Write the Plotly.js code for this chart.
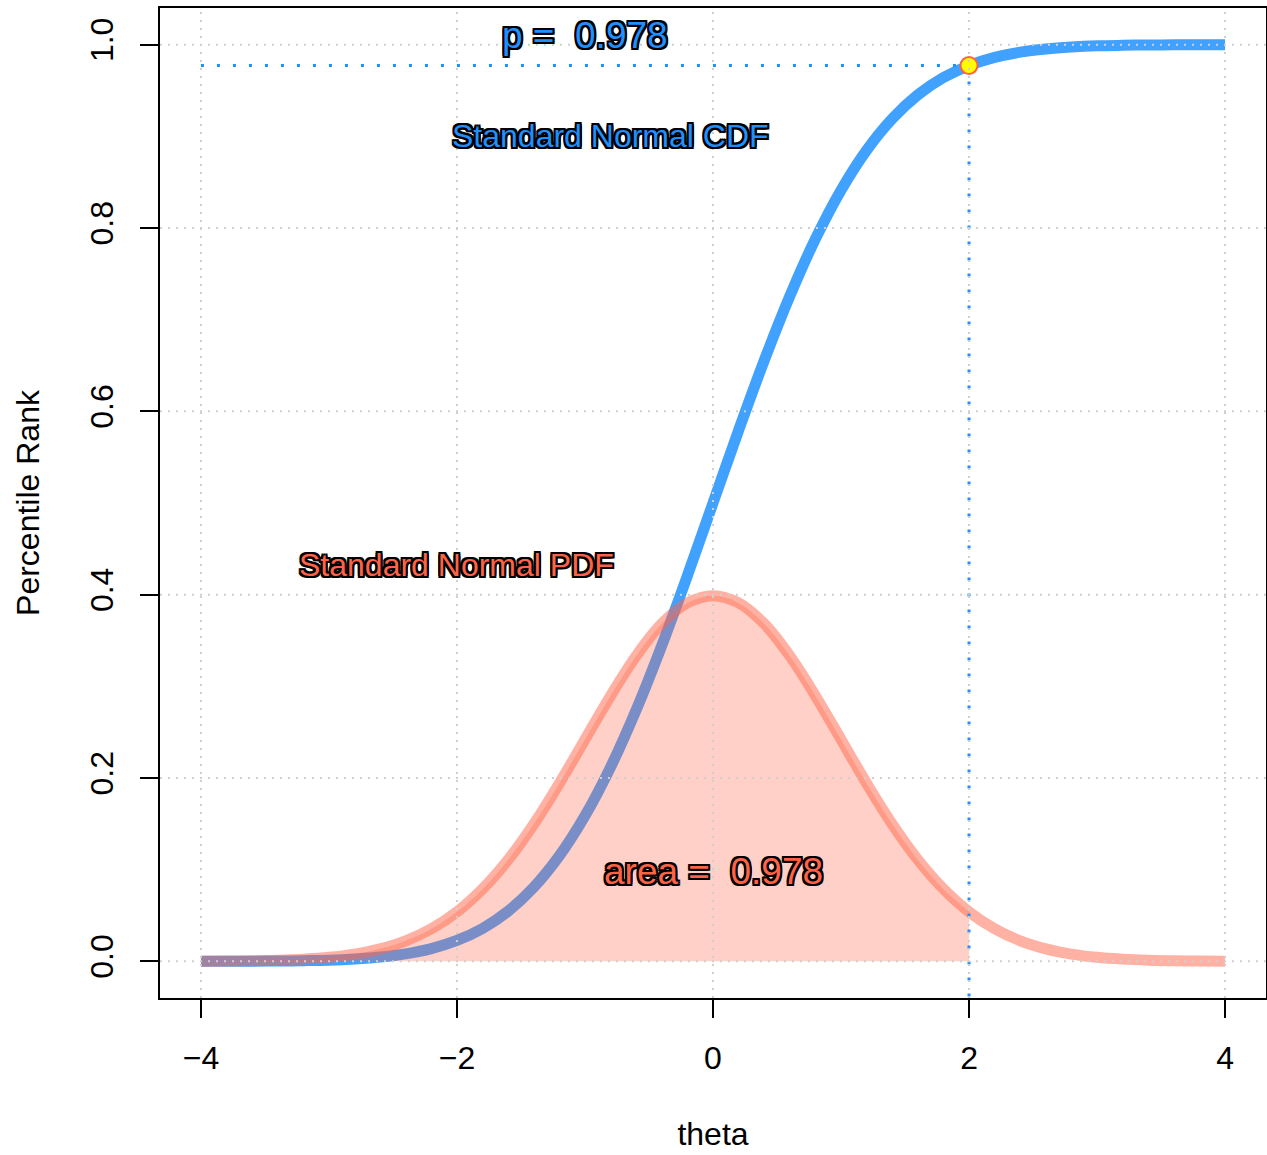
<!DOCTYPE html>
<html>
<head>
<meta charset="utf-8">
<script src="https://cdn.plot.ly/plotly-3.0.1.min.js"></script>
<style>html,body{margin:0;padding:0;background:#fff;}</style>
</head>
<body>
<div id="chart" style="width:1267px;height:1155px;"></div>
<script>
// theta grid read along the x axis
const theta = [-4.0,-3.8,-3.6,-3.4,-3.2,-3.0,-2.8,-2.6,-2.4,-2.2,-2.0,-1.8,-1.6,-1.4,-1.2,-1.0,-0.8,-0.6,-0.4,-0.2,
  0.0,0.2,0.4,0.6,0.8,1.0,1.2,1.4,1.6,1.8,2.0,2.2,2.4,2.6,2.8,3.0,3.2,3.4,3.6,3.8,4.0];
// Standard normal PDF heights
const pdfVals = [0.0001,0.0003,0.0006,0.0012,0.0024,0.0044,0.0079,0.0136,0.0224,0.0355,0.0540,0.0790,0.1109,0.1497,0.1942,0.2420,0.2897,0.3332,0.3683,0.3910,
  0.3989,0.3910,0.3683,0.3332,0.2897,0.2420,0.1942,0.1497,0.1109,0.0790,0.0540,0.0355,0.0224,0.0136,0.0079,0.0044,0.0024,0.0012,0.0006,0.0003,0.0001];
// Standard normal CDF heights
const cdfVals = [0.0000,0.0001,0.0002,0.0003,0.0007,0.0013,0.0026,0.0047,0.0082,0.0139,0.0228,0.0359,0.0548,0.0808,0.1151,0.1587,0.2119,0.2743,0.3446,0.4207,
  0.5000,0.5793,0.6554,0.7257,0.7881,0.8413,0.8849,0.9192,0.9452,0.9641,0.9772,0.9861,0.9918,0.9953,0.9974,0.9987,0.9993,0.9997,0.9998,0.9999,1.0000];
// highlighted point
const pointTheta = 2;
const pointP = 0.9772;
const xTicks = [-4,-2,0,2,4];
const xTickText = ["\u22124","\u22122","0","2","4"];
const yTicks = [0,0.2,0.4,0.6,0.8,1.0];
const yTickText = ["0.0","0.2","0.4","0.6","0.8","1.0"];
const labels = {
  p: "p =\u00a0\u00a00.978",
  cdf: "Standard Normal CDF",
  pdf: "Standard Normal PDF",
  area: "area =\u00a0\u00a00.978"
};

const shadeX = theta.filter(t => t <= pointTheta + 1e-9);
const shadeY = pdfVals.slice(0, shadeX.length);

const FONT = "Liberation Sans, Arial, Helvetica, sans-serif";
const outline = "-2px -2px 0 #000, 2px -2px 0 #000, -2px 2px 0 #000, 2px 2px 0 #000, 0 -2px 0 #000, 0 2px 0 #000, -2px 0 0 #000, 2px 0 0 #000";

const traces = [
  {x: theta, y: cdfVals, type: 'scatter', mode: 'lines', line: {color: 'rgba(30,144,255,0.85)', width: 11, shape: 'spline'}, hoverinfo: 'skip'},
  {x: shadeX, y: shadeY, type: 'scatter', mode: 'lines', fill: 'tozeroy', fillcolor: 'rgba(255,99,71,0.3)', line: {width: 0, shape: 'spline'}, hoverinfo: 'skip'},
  {x: theta, y: pdfVals, type: 'scatter', mode: 'lines', line: {color: 'rgba(255,99,71,0.5)', width: 11, shape: 'spline'}, hoverinfo: 'skip'},
  {x: [theta[0], pointTheta], y: [pointP, pointP], type: 'scatter', mode: 'lines', line: {color: '#1E90FF', width: 3, dash: '3px,13px'}, hoverinfo: 'skip'},
  {x: [pointTheta, pointTheta], y: [pointP, -0.1], type: 'scatter', mode: 'lines', line: {color: '#1E90FF', width: 3, dash: '3px,13px'}, hoverinfo: 'skip'},
  {x: [pointTheta], y: [pointP], type: 'scatter', mode: 'markers', marker: {color: '#FFFF00', size: 17, line: {color: '#FF6347', width: 2}}, hoverinfo: 'skip'}
];

const shapes = [];
xTicks.forEach(v => shapes.push({type: 'line', xref: 'x', yref: 'paper', x0: v, x1: v, y0: 0, y1: 1, layer: 'above', line: {color: '#CFCFCF', width: 2, dash: '2px,6px'}}));
yTicks.forEach(v => shapes.push({type: 'line', xref: 'paper', yref: 'y', x0: 0, x1: 1, y0: v, y1: v, layer: 'above', line: {color: '#CFCFCF', width: 2, dash: '2px,6px'}}));

function ann(text, x, y, color, size) {
  return {x: x, y: y, xref: 'x', yref: 'y', text: text, showarrow: false, xanchor: 'center', yanchor: 'middle',
    font: {family: FONT, size: size, color: color, shadow: outline}};
}

const layout = {
  width: 1267, height: 1155,
  margin: {l: 160, r: 1, t: 8, b: 157},
  paper_bgcolor: '#fff', plot_bgcolor: '#fff',
  showlegend: false,
  font: {family: FONT, color: '#000', size: 32},
  xaxis: {
    range: [-4.32, 4.32], tickvals: xTicks, ticktext: xTickText, showgrid: false, zeroline: false,
    showline: true, mirror: true, linecolor: '#000', linewidth: 2,
    ticks: 'outside', ticklen: 18, tickwidth: 2, tickcolor: '#000', ticklabelstandoff: 13,
    tickfont: {family: FONT, size: 32, color: '#000'},
    title: {text: 'theta', font: {family: FONT, size: 32, color: '#000'}, standoff: 47}
  },
  yaxis: {
    range: [-0.04, 1.04], tickvals: yTicks, ticktext: yTickText, showgrid: false, zeroline: false,
    showline: true, mirror: true, linecolor: '#000', linewidth: 2,
    ticks: 'outside', ticklen: 18, tickwidth: 2, tickcolor: '#000', tickangle: -90, ticklabelstandoff: 14,
    tickfont: {family: FONT, size: 32, color: '#000'},
    title: {text: 'Percentile Rank', font: {family: FONT, size: 32, color: '#000'}, standoff: 35}
  },
  shapes: shapes,
  annotations: [
    ann(labels.p, -1.0, 1.01, '#1E90FF', 37),
    ann(labels.cdf, -0.8, 0.9, '#1E90FF', 32),
    ann(labels.pdf, -2.0, 0.432, '#FF6347', 32),
    ann(labels.area, 0.0, 0.098, '#FF6347', 37)
  ]
};

Plotly.newPlot('chart', traces, layout, {displayModeBar: false, staticPlot: true});
</script>
</body>
</html>
